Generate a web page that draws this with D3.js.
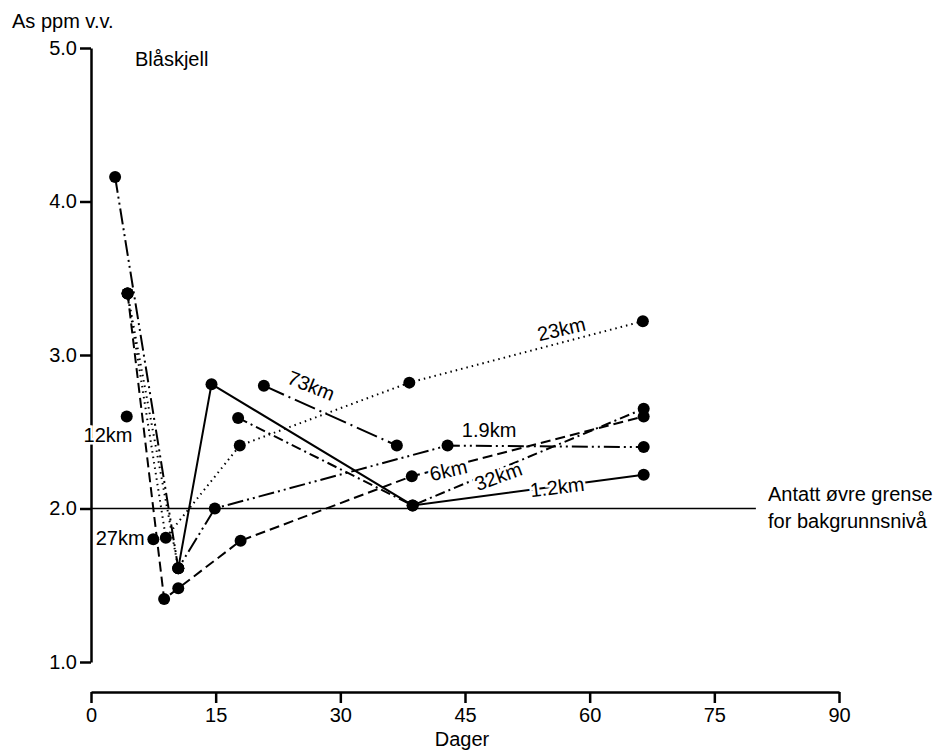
<!DOCTYPE html>
<html lang="no">
<head>
<meta charset="UTF-8">
<title>Blåskjell – As ppm v.v.</title>
<script src="https://d3js.org/d3.v7.min.js"></script>
<style>
  body { margin: 0; background: #fff; }
  svg { display: block; font-family: 'Liberation Sans', Arial, sans-serif; }
  .axis path, .axis line { stroke: #000; stroke-width: 2.5; }
  .axis text { font-size: 20px; fill: #000; font-family: 'Liberation Sans', Arial, sans-serif; }
  .series { fill: none; stroke: #000; stroke-width: 2; }
  .note { font-size: 20px; fill: #000; }
  .lbl { font-size: 20px; fill: #000; paint-order: stroke; stroke: #fff; stroke-width: 5; }
</style>
</head>
<body>
<svg id="chart" width="940" height="753"></svg>
<script>
// stations (distance) and their sampling days / As ppm values
const stations = ["1.2km", "1.9km", "6km", "12km", "23km", "32km", "73km"];
const dashes   = ["none", "16,4,2,4,2,4", "10,5", "1.5,4", "1.5,4", "10,4,2,4", "22,5,2,5"];

const days_1_2km = [10.5, 14.5, 38.7, 66.5];
const ppm_1_2km  = [1.61, 2.81, 2.02, 2.22];
const days_1_9km = [2.9, 10.5, 14.9, 42.9, 66.5];
const ppm_1_9km  = [4.16, 1.61, 2.0, 2.41, 2.40];
const days_6km   = [4.4, 8.8, 10.5, 18.0, 38.6, 66.5];
const ppm_6km    = [3.40, 1.41, 1.48, 1.79, 2.21, 2.60];
const days_12km  = [4.4, 10.5];
const ppm_12km   = [3.40, 1.61];
const days_23km  = [4.4, 9.0, 17.9, 38.3, 66.4];
const ppm_23km   = [3.40, 1.81, 2.41, 2.82, 3.22];
const days_32km  = [17.7, 38.7, 66.5];
const ppm_32km   = [2.59, 2.02, 2.65];
const days_73km  = [20.8, 36.8];
const ppm_73km   = [2.80, 2.41];

// single samples without a connecting line
const looseNames = ["12km", "27km"];
const looseDays  = [4.3, 7.5];
const loosePpm   = [2.60, 1.80];

// line labels: text, position (day, ppm), angle
const labelText  = ["12km", "27km", "73km", "23km", "1.9km", "6km", "32km", "1.2km"];
const labelDay   = [2.05, 3.5, 26.5, 56.6, 47.9, 43.0, 49.0, 56.1];
const labelPpm   = [2.48, 1.81, 2.80, 3.17, 2.51, 2.25, 2.21, 2.14];
const labelAngle = [0, 0, 22, -13, 0, -13, -20, -7];

const yTicks = [1.0, 2.0, 3.0, 4.0, 5.0];
const xTicks = [0, 15, 30, 45, 60, 75, 90];
const background = 2.0; // antatt øvre grense

const allDays = [days_1_2km, days_1_9km, days_6km, days_12km, days_23km, days_32km, days_73km];
const allPpm  = [ppm_1_2km, ppm_1_9km, ppm_6km, ppm_12km, ppm_23km, ppm_32km, ppm_73km];
const series = stations.map((s, i) => ({
  name: s, dash: dashes[i],
  pts: allDays[i].map((d, j) => ({ day: d, ppm: allPpm[i][j] }))
}));

const svg = d3.select("#chart");
const x = d3.scaleLinear().domain([0, 90]).range([91, 839]);
const y = d3.scaleLinear().domain([1, 5]).range([662, 48]);

svg.append("g").attr("class", "axis")
  .attr("transform", "translate(91,0)")
  .call(d3.axisLeft(y).tickValues(yTicks).tickFormat(d3.format(".1f"))
    .tickSize(11).tickSizeOuter(0).tickPadding(3));

svg.append("g").attr("class", "axis")
  .attr("transform", "translate(0,692)")
  .call(d3.axisBottom(x).tickValues(xTicks).tickSize(11).tickSizeOuter(0).tickPadding(5));

svg.append("text").attr("class", "note").attr("x", 12).attr("y", 28).text("As ppm v.v.");
svg.append("text").attr("class", "note").attr("x", 135).attr("y", 66).text("Blåskjell");
svg.append("text").attr("class", "note").attr("x", 462).attr("y", 746)
  .attr("text-anchor", "middle").text("Dager");

// background level
svg.append("line")
  .attr("x1", x(0)).attr("x2", x(80))
  .attr("y1", y(background)).attr("y2", y(background))
  .attr("stroke", "#000").attr("stroke-width", 1.6);
svg.append("text").attr("class", "note").attr("x", 768).attr("y", 501).text("Antatt øvre grense");
svg.append("text").attr("class", "note").attr("x", 768).attr("y", 528).text("for bakgrunnsnivå");

const line = d3.line().x(d => x(d.day)).y(d => y(d.ppm));

svg.selectAll(".series").data(series).enter()
  .append("path")
  .attr("class", "series")
  .attr("d", d => line(d.pts))
  .attr("stroke-dasharray", d => d.dash === "none" ? null : d.dash);

// labels
svg.selectAll(".lbl").data(labelText).enter()
  .append("text")
  .attr("class", "lbl")
  .attr("text-anchor", "middle")
  .attr("dominant-baseline", "central")
  .attr("transform", (d, i) => `translate(${x(labelDay[i])},${y(labelPpm[i])}) rotate(${labelAngle[i]})`)
  .text(d => d);

// points
const points = series.flatMap(s => s.pts)
  .concat(looseDays.map((d, i) => ({ day: d, ppm: loosePpm[i] })));
svg.selectAll(".pt").data(points).enter()
  .append("circle")
  .attr("class", "pt")
  .attr("cx", d => x(d.day))
  .attr("cy", d => y(d.ppm))
  .attr("r", 6)
  .attr("fill", "#000");
</script>
</body>
</html>
